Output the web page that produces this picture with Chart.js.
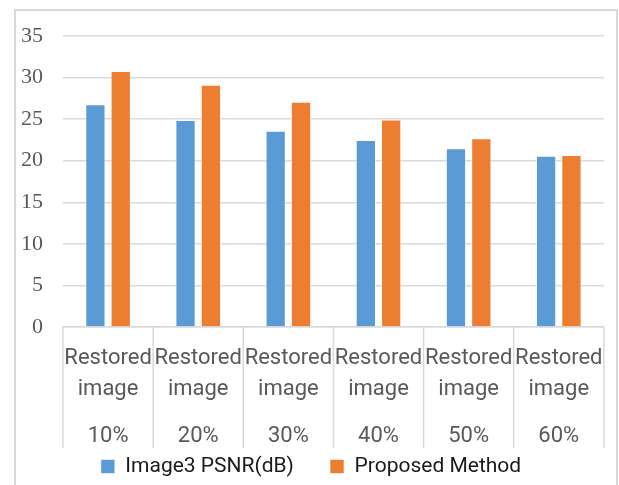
<!DOCTYPE html>
<html>
<head>
<meta charset="utf-8">
<script src="https://cdn.jsdelivr.net/npm/chart.js@4.4.1/dist/chart.umd.min.js"></script>
<style>
  body { margin: 0; background: #fff; }
  #wrap { position: relative; width: 619px; height: 485px; overflow: hidden; }
  #frame { position: absolute; left: 14px; top: 9px; width: 600px; height: 500px; border: 2px solid #d9d9d9; }
  canvas { position: absolute; left: 0; top: 0; }
</style>
</head>
<body>
<div id="wrap">
  <div id="frame"></div>
  <canvas id="psnrChart" width="619" height="485"></canvas>
</div>
<script>
// chart data
const categories = [
  ["Restored", "image"], ["Restored", "image"], ["Restored", "image"],
  ["Restored", "image"], ["Restored", "image"], ["Restored", "image"]
];
const noiseLevels = ["10%", "20%", "30%", "40%", "50%", "60%"];
const image3Psnr = [26.8, 24.9, 23.6, 22.5, 21.5, 20.6];
const proposedMethod = [30.8, 29.15, 27.1, 24.95, 22.7, 20.7];
const yTicks = [0, 5, 10, 15, 20, 25, 30, 35];

const gridColor = "#d9d9d9";
const labelColor = "#595959";

// vertical separators between the category labels (below the plot)
const separators = {
  id: "separators",
  afterDraw(chart) {
    const xs = chart.scales.x;
    const x2 = chart.scales.x2;
    const step = xs.getPixelForValue(1) - xs.getPixelForValue(0);
    const c = chart.ctx;
    c.save();
    c.strokeStyle = gridColor;
    c.lineWidth = 1.5;
    for (let i = 0; i <= categories.length; i++) {
      const px = xs.getPixelForValue(0) - step / 2 + i * step;
      c.beginPath();
      c.moveTo(px, xs.top);
      c.lineTo(px, x2.bottom - 4);
      c.stroke();
    }
    c.restore();
  },
};

const ctx = document.getElementById("psnrChart").getContext("2d");
new Chart(ctx, {
  type: "bar",
  data: {
    labels: categories,
    datasets: [
      {
        label: "Image3 PSNR(dB)",
        data: image3Psnr,
        backgroundColor: "#5b9bd5",
        borderColor: "rgba(255,255,255,0.6)",
        borderWidth: 1,
        xAxisID: "x",
      },
      {
        label: "Proposed Method",
        data: proposedMethod,
        backgroundColor: "#ed7d31",
        borderColor: "rgba(255,255,255,0.6)",
        borderWidth: 1,
        xAxisID: "x",
      },
    ],
  },
  plugins: [separators],
  options: {
    responsive: false,
    devicePixelRatio: 1,
    animation: false,
    categoryPercentage: 0.5625,
    barPercentage: 0.8,
    layout: { padding: { left: 15, right: 12, top: 36, bottom: -2 } },
    plugins: {
      tooltip: { enabled: false },
      legend: {
        position: "bottom",
        labels: {
          boxWidth: 14,
          boxHeight: 14,
          padding: 4,
          color: "#1a1a1a",
          font: { family: "Roboto", size: 21 },
          // extra room after the first entry, like the original spacing
          generateLabels: (chart) =>
            Chart.defaults.plugins.legend.labels.generateLabels(chart).map((l, i) =>
              i === 0 ? { ...l, text: l.text + "\u2003\u2002" } : l
            ),
        },
      },
    },
    scales: {
      x: {
        weight: 1,
        grid: { display: false, drawTicks: false },
        border: { color: gridColor, width: 1.5 },
        ticks: {
          padding: 15.5,
          maxRotation: 0,
          autoSkip: false,
          color: labelColor,
          font: { family: "Roboto", size: 22, lineHeight: "31px" },
        },
      },
      x2: {
        type: "category",
        position: "bottom",
        weight: 2,
        labels: noiseLevels,
        offset: true,
        grid: { display: false, drawTicks: false },
        border: { display: false },
        ticks: {
          padding: 0.5,
          maxRotation: 0,
          autoSkip: false,
          color: labelColor,
          font: { family: "Roboto", size: 22, lineHeight: "31px" },
        },
      },
      y: {
        min: 0,
        max: 35,
        afterFit: (s) => { s.width = 48; },
        afterBuildTicks: (s) => { s.ticks = yTicks.map((v) => ({ value: v })); },
        grid: { color: gridColor, lineWidth: 1.5, drawTicks: false },
        border: { display: false },
        ticks: {
          padding: 20,
          color: labelColor,
          font: { family: "Liberation Serif", size: 22 },
        },
      },
    },
  },
});
</script>
</body>
</html>
